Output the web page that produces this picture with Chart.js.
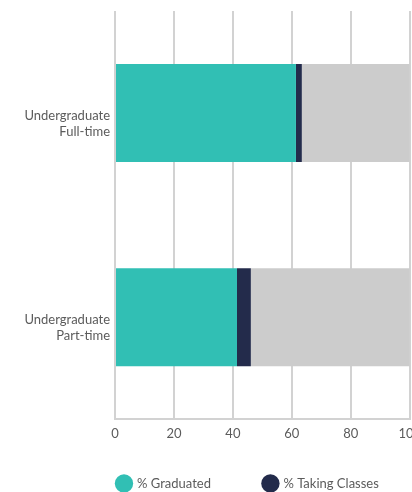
<!DOCTYPE html>
<html>
<head>
<meta charset="utf-8">
<script src="https://cdn.jsdelivr.net/npm/chart.js@4"></script>
<style>
  html, body { margin: 0; padding: 0; background: #fff; overflow: hidden; }
  #wrap { width: 412px; height: 492px; overflow: hidden; }
</style>
</head>
<body>
<div id="wrap"><canvas id="chart" width="428" height="525"></canvas></div>
<script>
// categories (multi-line labels)
const categories = [['Undergraduate', 'Full-time'], ['Undergraduate', 'Part-time']];
// series, percent
const graduated = [61.4, 41.4];
const takingClasses = [2.0, 4.7];
const other = [36.6, 53.9];
const xTicks = [0, 20, 40, 60, 80, 100];

const textColor = '#5b5b5b';
const gridColor = '#d2d2d2';
const legendPad = 53;
const legendFont = 13;

// move the legend row to where the original has it
const legendPlace = {
    id: 'legendPlace',
    afterLayout(chart) {
        const lg = chart.legend;
        const w = lg.right - lg.left, h = lg.bottom - lg.top;
        lg.left = 117.5 - legendPad;
        lg.right = lg.left + w;
        lg.top = 483.5 - legendFont / 2 - legendPad;
        lg.bottom = lg.top + h;
    }
};

new Chart(document.getElementById('chart').getContext('2d'), {
    type: 'bar',
    data: {
        labels: categories,
        datasets: [
            { label: '% Graduated', data: graduated, backgroundColor: '#31bfb4' },
            { label: '% Taking Classes', data: takingClasses, backgroundColor: '#232b4b' },
            { label: 'Other', data: other, backgroundColor: '#cccccc' }
        ]
    },
    plugins: [legendPlace],
    options: {
        indexAxis: 'y',
        responsive: false,
        animation: false,
        barPercentage: 0.6,
        categoryPercentage: 0.8,
        layout: { padding: { top: 11 } },
        plugins: {
            tooltip: { enabled: false },
            legend: {
                position: 'bottom',
                align: 'start',
                labels: {
                    usePointStyle: true,
                    pointStyle: 'circle',
                    padding: legendPad,
                    color: textColor,
                    font: { family: 'Lato', size: legendFont },
                    filter: item => item.datasetIndex < 2
                }
            }
        },
        scales: {
            x: {
                stacked: true,
                min: 0,
                max: 100,
                afterBuildTicks: s => { s.ticks = xTicks.map(v => ({ value: v })); },
                grid: { color: gridColor, lineWidth: 2, drawTicks: false },
                border: { color: gridColor, width: 2 },
                ticks: { color: textColor, padding: 7, font: { family: 'Lato', size: 13 } }
            },
            y: {
                stacked: true,
                afterFit: s => { s.width = 115; s.paddingTop = 0; s.paddingBottom = 0; },
                grid: { display: false, drawTicks: false },
                border: { display: false },
                ticks: { color: textColor, padding: 5, labelOffset: 10.5, font: { family: 'Lato', size: 13 } }
            }
        }
    }
});
</script>
</body>
</html>
